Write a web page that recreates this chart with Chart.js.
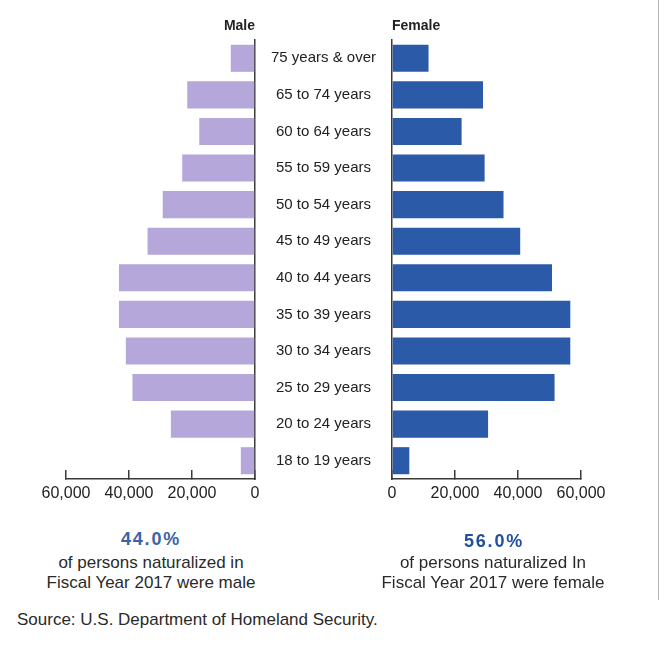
<!DOCTYPE html>
<html>
<head>
<meta charset="utf-8">
<script src="https://cdn.jsdelivr.net/npm/chart.js@4/dist/chart.umd.min.js"></script>
<style>
  html, body { margin: 0; padding: 0; background: #fff; }
  body { width: 662px; height: 649px; position: relative; overflow: hidden;
         font-family: 'Liberation Sans', Arial, sans-serif; color: #262626; }
  .abs { position: absolute; white-space: nowrap; }
  #male { position: absolute; left: 0; top: 0; }
  #female { position: absolute; left: 240px; top: 0; }
  .ttl { font-weight: bold; font-size: 14px; line-height: 16px; top: 17px; color: #222; }
  .pct { font-weight: bold; font-size: 18px; line-height: 20px; letter-spacing: 1.8px; text-align: center; width: 300px; }
  .note { font-size: 17px; line-height: 20px; text-align: center; width: 300px; color: #2a2a2a; }
</style>
</head>
<body>
<canvas id="male" width="300" height="520"></canvas>
<canvas id="female" width="422" height="520"></canvas>

<div class="abs ttl" style="left:0; width:255px; text-align:right;">Male</div>
<div class="abs ttl" style="left:392px;">Female</div>

<div class="abs pct" style="left:1px; top:529px; color:#3a64a6;">44.0%</div>
<div class="abs note" style="left:1px; top:553px;">of persons naturalized in</div>
<div class="abs note" style="left:1px; top:573px;">Fiscal Year 2017 were male</div>

<div class="abs pct" style="left:344px; top:531px; color:#1f4f9e;">56.0%</div>
<div class="abs note" style="left:343px; top:553px;">of persons naturalized In</div>
<div class="abs note" style="left:343px; top:573px;">Fiscal Year 2017 were female</div>

<div class="abs" style="left:17px; top:610px; font-size:17px; line-height:20px; color:#2a2a2a;">Source: U.S. Department of Homeland Security.</div>
<div class="abs" style="left:658px; top:0; width:1px; height:600px; background:#b5b5b5;"></div>

<script>
// ---- data ----
const categories = [
  "75 years & over", "65 to 74 years", "60 to 64 years", "55 to 59 years",
  "50 to 54 years", "45 to 49 years", "40 to 44 years", "35 to 39 years",
  "30 to 34 years", "25 to 29 years", "20 to 24 years", "18 to 19 years"
];
const maleValues   = [7700, 21500, 17700, 23100, 29300, 34100, 43200, 43200, 41000, 38900, 26700, 4500];
const femaleValues = [11600, 28900, 22100, 29400, 35400, 40700, 50800, 56600, 56600, 51600, 30500, 5500];
const xTicks = [0, 20000, 40000, 60000];

// ---- styling ----
const FONT = "'Liberation Sans', Arial, sans-serif";
const AXIS = '#3a3a3a';
const fmt = v => Number(v).toLocaleString('en-US');

function xScale(reverse) {
  return {
    type: 'linear',
    reverse: reverse,
    min: xTicks[0],
    max: xTicks[xTicks.length - 1],
    afterBuildTicks: s => { s.ticks = xTicks.map(v => ({ value: v })); },
    afterFit: s => { s.height = 41; },
    grid: { display: true, drawOnChartArea: false, drawTicks: true, tickLength: -9, color: AXIS, lineWidth: 1.5 },
    border: { display: true, color: AXIS, width: 1.5 },
    ticks: { font: { family: FONT, size: 16 }, color: '#222', padding: 14, maxRotation: 0, autoSkip: false,
             callback: v => fmt(v) }
  };
}

function baseOptions() {
  return {
    responsive: false,
    animation: false,
    indexAxis: 'y',
    plugins: { legend: { display: false }, tooltip: { enabled: false }, title: { display: false } },
  };
}

// Male (left, reversed)
const mOpts = baseOptions();
mOpts.layout = { padding: { left: 66, right: 45, top: 40, bottom: 0 } };
mOpts.scales = {
  x: xScale(true),
  y: {
    type: 'category',
    position: 'right',
    afterFit: s => { s.width = 0; },
    grid: { display: true, drawOnChartArea: false, drawTicks: false },
    border: { display: true, color: AXIS, width: 1.5 },
    ticks: { display: false }
  }
};
new Chart(document.getElementById('male'), {
  type: 'bar',
  data: {
    labels: categories,
    datasets: [{ label: 'Male', data: maleValues, backgroundColor: '#b5a7d9',
                 barPercentage: 0.74, categoryPercentage: 1.0 }]
  },
  options: mOpts
});

// Female (right)
const fOpts = baseOptions();
fOpts.layout = { padding: { left: 15, right: 81, top: 40, bottom: 0 } };
fOpts.scales = {
  x: xScale(false),
  y: {
    type: 'category',
    position: 'left',
    afterFit: s => { s.width = 137; },
    grid: { display: true, drawOnChartArea: false, drawTicks: false },
    border: { display: true, color: AXIS, width: 1.5 },
    ticks: { display: true, crossAlign: 'center', padding: 16, autoSkip: false,
             font: { family: FONT, size: 15 }, color: '#222' }
  }
};
new Chart(document.getElementById('female'), {
  type: 'bar',
  data: {
    labels: categories,
    datasets: [{ label: 'Female', data: femaleValues, backgroundColor: '#2a5aa8',
                 barPercentage: 0.74, categoryPercentage: 1.0 }]
  },
  options: fOpts
});
</script>
</body>
</html>
